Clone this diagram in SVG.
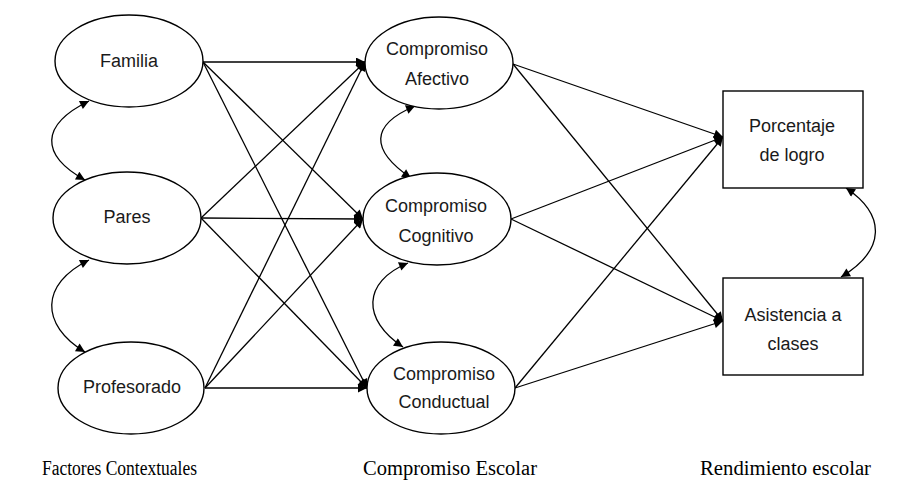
<svg xmlns="http://www.w3.org/2000/svg" width="904" height="481" viewBox="0 0 904 481">
<style>
.n{fill:#fff;stroke:#000;stroke-width:1.4}
.t{font-family:"Liberation Sans",Arial,sans-serif;font-size:18px;fill:#1a1a1a;text-anchor:middle}
.c{fill:none;stroke:#000;stroke-width:1.3}
.lab{font-family:"Liberation Serif","Times New Roman",serif;font-size:20.5px;fill:#000}
</style>
<defs>
<marker id="ah" viewBox="0 0 10 10" refX="10" refY="5" markerWidth="11" markerHeight="9" markerUnits="userSpaceOnUse" orient="auto-start-reverse">
<path d="M0,0 L10,5 L0,10 z" fill="#000"/>
</marker>
</defs>
<g id="connectors">
<g class="c" marker-end="url(#ah)">
<line x1="203" y1="62" x2="365" y2="62"/>
<line x1="203" y1="62" x2="363" y2="219"/>
<line x1="203" y1="62" x2="367" y2="388"/>
<line x1="201" y1="218" x2="365" y2="62"/>
<line x1="201" y1="218" x2="363" y2="219"/>
<line x1="201" y1="218" x2="367" y2="388"/>
<line x1="205" y1="388" x2="365" y2="62"/>
<line x1="205" y1="388" x2="363" y2="219"/>
<line x1="205" y1="388" x2="367" y2="388"/>
<line x1="513" y1="64" x2="723" y2="137"/>
<line x1="513" y1="64" x2="723" y2="321"/>
<line x1="511" y1="219" x2="723" y2="137"/>
<line x1="511" y1="219" x2="723" y2="321"/>
<line x1="515" y1="388" x2="723" y2="137"/>
<line x1="515" y1="388" x2="723" y2="321"/>
</g>
<g class="c" marker-start="url(#ah)" marker-end="url(#ah)">
<path d="M89,101 C40,125 40,155 85,180"/>
<path d="M89,260 C40,284 40,325 85,352"/>
<path d="M415,106 C370,125 370,150 411,178"/>
<path d="M408,263 C362,282 362,320 403,347"/>
<path d="M846,188 C886,215 886,250 841,277"/>
</g>
</g>
<g id="familia"><ellipse class="n" cx="129" cy="61" rx="74" ry="46"/><text class="t" x="129" y="67">Familia</text></g>
<g id="pares"><ellipse class="n" cx="127" cy="218" rx="74" ry="46"/><text class="t" x="127" y="223">Pares</text></g>
<g id="profesorado"><ellipse class="n" cx="131" cy="388" rx="73" ry="46"/><text class="t" x="132" y="393">Profesorado</text></g>
<g id="afectivo"><ellipse class="n" cx="439" cy="63" rx="74" ry="46"/><text class="t" x="437" y="55">Compromiso</text><text class="t" x="437" y="85">Afectivo</text></g>
<g id="cognitivo"><ellipse class="n" cx="437" cy="219" rx="74" ry="46"/><text class="t" x="436" y="212">Compromiso</text><text class="t" x="436" y="242">Cognitivo</text></g>
<g id="conductual"><ellipse class="n" cx="441" cy="388" rx="74" ry="46"/><text class="t" x="444" y="380">Compromiso</text><text class="t" x="444" y="408">Conductual</text></g>
<g id="porcentaje"><rect class="n" x="723" y="91" width="140" height="97"/><text class="t" x="792" y="132">Porcentaje</text><text class="t" x="792" y="161">de logro</text></g>
<g id="asistencia"><rect class="n" x="723" y="278" width="140" height="97"/><text class="t" x="793" y="321">Asistencia a</text><text class="t" x="793" y="350">clases</text></g>
<g id="labels">
<text class="lab" x="42" y="475" textLength="155" lengthAdjust="spacingAndGlyphs">Factores Contextuales</text>
<text class="lab" x="363" y="475" textLength="174" lengthAdjust="spacingAndGlyphs">Compromiso Escolar</text>
<text class="lab" x="700" y="475" textLength="171" lengthAdjust="spacingAndGlyphs">Rendimiento escolar</text>
</g>
</svg>
